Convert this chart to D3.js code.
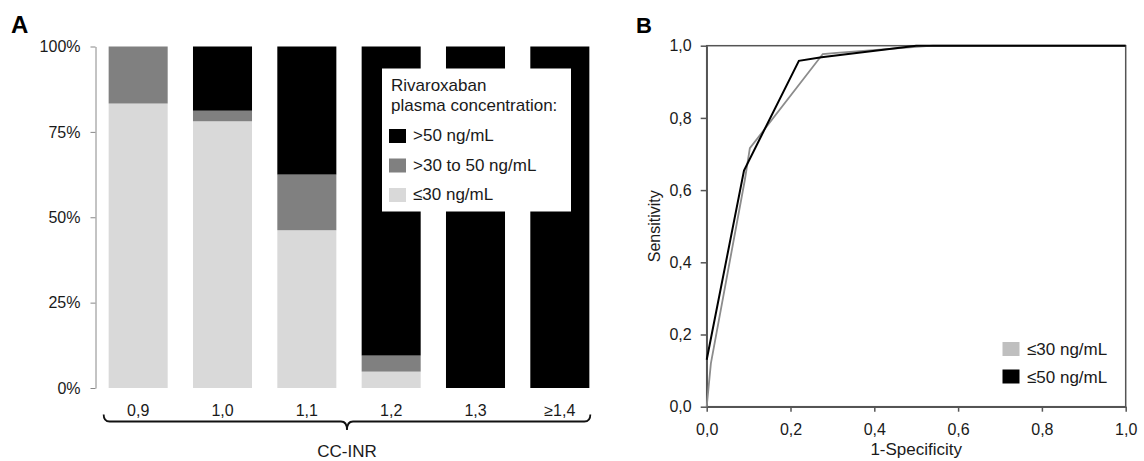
<!DOCTYPE html>
<html>
<head>
<meta charset="utf-8">
<script src="https://cdn.jsdelivr.net/npm/d3@7"></script>
<style>
  body { margin: 0; background: #fff; }
  text { font-family: "Liberation Sans", Arial, sans-serif; fill: #1a1a1a; }
</style>
</head>
<body>
<div id="chart-area"></div>
<script>
// panel A data (percent of samples per CC-INR group)
var inrCats = ["0,9", "1,0", "1,1", "1,2", "1,3", "≥1,4"];
var low30 = [83.3, 78.1, 46.2, 4.8, 0, 0];
var mid30to50 = [16.7, 3.1, 16.3, 4.7, 0, 0];
var high50 = [0, 18.8, 37.5, 90.5, 100, 100];
var stackKeys = ["low", "mid", "high"];
var stackLabels = ["≤30 ng/mL", ">30 to 50 ng/mL", ">50 ng/mL"];
var pctTicks = [0, 25, 50, 75, 100];

// panel B data (ROC curves)
var fpr30 = [0, 0.01, 0.091, 0.103, 0.277, 0.31, 0.54, 1];
var tpr30 = [0, 0.12, 0.628, 0.716, 0.977, 0.98, 1, 1];
var fpr50 = [0, 0.089, 0.220, 0.274, 0.50, 1];
var tpr50 = [0.13, 0.654, 0.958, 0.968, 1, 1];
var rocTicks = [0, 0.2, 0.4, 0.6, 0.8, 1];
var rocLabels = ["≤30 ng/mL", "≤50 ng/mL"];

var width = 1144;
var height = 461;

var svg = d3.select("#chart-area").append("svg")
    .attr("width", width)
    .attr("height", height);

var colors = d3.scaleOrdinal()
    .domain(stackKeys)
    .range(["#d9d9d9", "#808080", "#000000"]);

// ---------- Panel A ----------
var rows = inrCats.map((c, i) => {
    return { cat: c, low: low30[i], mid: mid30to50[i], high: high50[i] };
});

var x = d3.scaleBand()
    .domain(inrCats)
    .range([96, 602])
    .paddingInner(0.3)
    .paddingOuter(0.15);

var y = d3.scaleLinear()
    .domain([0, 100])
    .range([388, 46.5]);

svg.append("text")
    .attr("x", 11)
    .attr("y", 33)
    .attr("font-size", "24px")
    .attr("font-weight", "bold")
    .style("fill", "#000")
    .text("A");

var series = d3.stack().keys(stackKeys)(rows);

svg.append("g").selectAll("g")
    .data(series)
    .enter().append("g")
        .attr("fill", (d) => { return colors(d.key); })
    .selectAll("rect")
    .data((d) => { return d; })
    .enter().append("rect")
        .attr("x", (d) => { return x(d.data.cat); })
        .attr("y", (d) => { return y(d[1]); })
        .attr("height", (d) => { return y(d[0]) - y(d[1]); })
        .attr("width", x.bandwidth());

var yAxisA = svg.append("g")
    .attr("transform", "translate(95.5, 0)")
    .call(d3.axisLeft(y).tickValues(pctTicks).tickSize(5).tickSizeOuter(0).tickPadding(10)
        .tickFormat((d) => { return d + "%"; }));
yAxisA.selectAll("path, line").attr("stroke", "#888");
yAxisA.selectAll("text").attr("font-size", "16px").style("font-family", "Liberation Sans, Arial, sans-serif");

// category labels
svg.append("g").selectAll("text")
    .data(inrCats)
    .enter().append("text")
        .attr("x", (d) => { return x(d) + x.bandwidth() / 2; })
        .attr("y", 416)
        .attr("text-anchor", "middle")
        .attr("font-size", "16px")
        .text((d) => { return d; });

// curly brace under the categories
var bL = x(inrCats[0]) - 5;
var bR = x(inrCats[inrCats.length - 1]) + x.bandwidth() + 1;
var bM = (bL + bR) / 2;
var bTop = 414.5, bY = 421.5, bTip = 430;
svg.append("path")
    .attr("d", "M" + bL + "," + bTop +
        " Q" + bL + "," + bY + " " + (bL + 6) + "," + bY +
        " L" + (bM - 6) + "," + bY +
        " Q" + bM + "," + bY + " " + bM + "," + bTip +
        " Q" + bM + "," + bY + " " + (bM + 6) + "," + bY +
        " L" + (bR - 6) + "," + bY +
        " Q" + bR + "," + bY + " " + bR + "," + bTop)
    .attr("fill", "none")
    .attr("stroke", "#111")
    .attr("stroke-width", 1.8);

svg.append("text")
    .attr("x", bM)
    .attr("y", 457)
    .attr("text-anchor", "middle")
    .attr("font-size", "17px")
    .text("CC-INR");

// legend A
var legA = svg.append("g").attr("transform", "translate(382, 68.5)");
legA.append("rect")
    .attr("width", 189)
    .attr("height", 143)
    .attr("fill", "#fff");
legA.append("text").attr("x", 9).attr("y", 22.5).attr("font-size", "17px").text("Rivaroxaban");
legA.append("text").attr("x", 9).attr("y", 42).attr("font-size", "17px").text("plasma concentration:");

var legKeys = stackKeys.slice().reverse();
var legItems = legA.selectAll(".leg")
    .data(legKeys)
    .enter().append("g")
        .attr("class", "leg")
        .attr("transform", (d, i) => { return "translate(7, " + (60.5 + i * 29.5) + ")"; });
legItems.append("rect")
    .attr("width", 17)
    .attr("height", 14)
    .attr("fill", (d) => { return colors(d); });
legItems.append("text")
    .attr("x", 24)
    .attr("y", 12)
    .attr("font-size", "17px")
    .text((d) => { return stackLabels[stackKeys.indexOf(d)]; });

// ---------- Panel B ----------
var bx = d3.scaleLinear().domain([0, 1]).range([706.7, 1125.7]);
var by = d3.scaleLinear().domain([0, 1]).range([406.7, 45.7]);
var commaFmt = (d) => { return d.toFixed(1).replace(".", ","); };

svg.append("text")
    .attr("x", 636)
    .attr("y", 32.5)
    .attr("font-size", "22px")
    .attr("font-weight", "bold")
    .style("fill", "#000")
    .text("B");

// frame
svg.append("rect")
    .attr("x", bx(0))
    .attr("y", by(1))
    .attr("width", bx(1) - bx(0))
    .attr("height", by(0) - by(1))
    .attr("fill", "none")
    .attr("stroke", "#555")
    .attr("stroke-width", 1.5);

var xAxisB = svg.append("g")
    .attr("transform", "translate(0, " + by(0) + ")")
    .call(d3.axisBottom(bx).tickValues(rocTicks).tickSize(5).tickSizeOuter(0).tickPadding(12).tickFormat(commaFmt));
var yAxisB = svg.append("g")
    .attr("transform", "translate(" + bx(0) + ", 0)")
    .call(d3.axisLeft(by).tickValues(rocTicks).tickSize(6).tickSizeOuter(0).tickPadding(9).tickFormat(commaFmt));
[xAxisB, yAxisB].forEach((a) => {
    a.selectAll("path, line").attr("stroke", "#555").attr("stroke-width", 1.5);
    a.selectAll("text").attr("font-size", "16px").style("font-family", "Liberation Sans, Arial, sans-serif").style("fill", "#1a1a1a");
});

var roc30 = fpr30.map((v, i) => { return [v, tpr30[i]]; });
var roc50 = fpr50.map((v, i) => { return [v, tpr50[i]]; });
var line = d3.line()
    .x((d) => { return bx(d[0]); })
    .y((d) => { return by(d[1]); });

svg.append("path")
    .datum(roc30)
    .attr("d", line)
    .attr("fill", "none")
    .attr("stroke", "#8c8c8c")
    .attr("stroke-width", 1.8);
svg.append("path")
    .datum(roc50)
    .attr("d", line)
    .attr("fill", "none")
    .attr("stroke", "#000")
    .attr("stroke-width", 2);

svg.append("text")
    .attr("x", (bx(0) + bx(1)) / 2)
    .attr("y", 455)
    .attr("text-anchor", "middle")
    .attr("font-size", "17px")
    .text("1-Specificity");

svg.append("text")
    .attr("transform", "translate(660, " + (by(0) + by(1)) / 2 + ") rotate(-90)")
    .attr("text-anchor", "middle")
    .attr("font-size", "16px")
    .text("Sensitivity");

// legend B
var legB = svg.append("g").attr("transform", "translate(1002.5, 342)");
var legBItems = legB.selectAll("g")
    .data(rocLabels)
    .enter().append("g")
        .attr("transform", (d, i) => { return "translate(0, " + (i * 27.5) + ")"; });
legBItems.append("rect")
    .attr("width", 17)
    .attr("height", 14)
    .attr("fill", (d, i) => { return i === 0 ? "#bfbfbf" : "#000"; });
legBItems.append("text")
    .attr("x", 24.5)
    .attr("y", 13)
    .attr("font-size", "17px")
    .text((d) => { return d; });
</script>
</body>
</html>
